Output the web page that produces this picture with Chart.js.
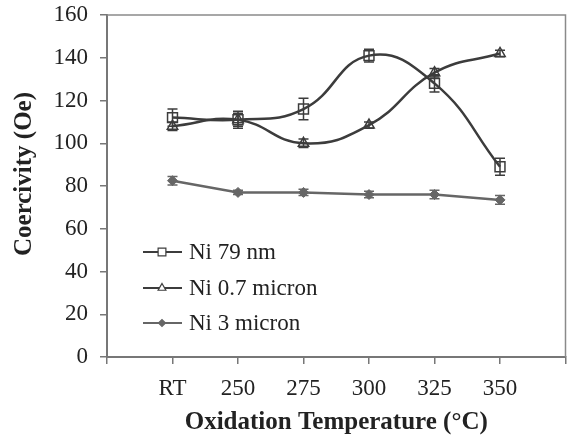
<!DOCTYPE html>
<html>
<head>
<meta charset="utf-8">
<script src="https://cdn.jsdelivr.net/npm/chart.js@4.4.1/dist/chart.umd.min.js"></script>
<style>
  html, body { margin: 0; padding: 0; background: #fff; }
  #wrap { width: 574px; height: 440px; }
</style>
</head>
<body>
<div id="wrap"><canvas id="coercivityChart" width="574" height="440"></canvas></div>
<script>
// empty slots at both ends leave room left of RT and right of 350
var temperatures = ['', 'RT', '250', '275', '300', '325', '350', ''];

var ni79nm = [null, 112, 111, 116, 141, 128, 89, null];
var ni79nmErr = [null, 4, 4, 5, 3, 4, 4, null];

var ni07micron = [null, 108, 111, 100, 108.5, 133, 142, null];
var ni07micronErr = [null, 2, 3, 2, 1.5, 2, 1.5, null];

var ni3micron = [null, 82.5, 77, 77, 76, 76, 73.5, null];
var ni3micronErr = [null, 2, 1, 1.5, 1.5, 2, 2, null];

var yTitle = 'Coercivity (Oe)';

var serif = "'Liberation Serif', 'Times New Roman', serif";

// error bars, closed frame, y title and the inset legend
var extras = {
  id: 'extras',
  afterDatasetsDraw: function (chart) {
    var ctx = chart.ctx;
    var xs = chart.scales.x, ys = chart.scales.y;
    var area = chart.chartArea;

    ctx.save();
    chart.data.datasets.forEach(function (ds) {
      ctx.strokeStyle = ds.borderColor;
      ctx.lineWidth = 1.5;
      ds.data.forEach(function (v, i) {
        var e = ds.errors[i];
        if (v === null || !e) return;
        var x = xs.getPixelForValue(i);
        var y1 = ys.getPixelForValue(v + e);
        var y2 = ys.getPixelForValue(v - e);
        ctx.beginPath();
        ctx.moveTo(x, y1); ctx.lineTo(x, y2);
        ctx.moveTo(x - 5, y1); ctx.lineTo(x + 5, y1);
        ctx.moveTo(x - 5, y2); ctx.lineTo(x + 5, y2);
        ctx.stroke();
      });
    });

    // top and right edges of the frame
    ctx.strokeStyle = '#8a8a8a';
    ctx.lineWidth = 1.5;
    ctx.beginPath();
    ctx.moveTo(area.left, area.top);
    ctx.lineTo(area.right, area.top);
    ctx.lineTo(area.right, area.bottom);
    ctx.stroke();

    // y axis title, sits a little above the middle of the axis
    ctx.save();
    ctx.translate(25, 174);
    ctx.rotate(-Math.PI / 2);
    ctx.fillStyle = '#222';
    ctx.font = 'bold 25px ' + serif;
    ctx.textAlign = 'center';
    ctx.textBaseline = 'middle';
    ctx.fillText(yTitle, 0, 0);
    ctx.restore();

    // legend
    var ly = [252, 288, 323];
    chart.data.datasets.forEach(function (ds, k) {
      var y = ly[k];
      ctx.strokeStyle = ds.borderColor;
      ctx.lineWidth = 2;
      ctx.beginPath();
      ctx.moveTo(143, y); ctx.lineTo(182, y);
      ctx.stroke();
      ctx.fillStyle = ds.pointStyle === 'rectRot' ? ds.pointBackgroundColor : '#fff';
      ctx.lineWidth = 1.2;
      Chart.helpers.drawPoint(ctx, {
        pointStyle: ds.pointStyle, radius: ds.pointRadius - 1.5,
        borderWidth: 1.2, rotation: 0
      }, 162, y);
      ctx.fillStyle = '#222';
      ctx.font = '23px ' + serif;
      ctx.textBaseline = 'middle';
      ctx.textAlign = 'left';
      ctx.fillText(ds.label, 189, y + 1);
    });
    ctx.restore();
  }
};

new Chart(document.getElementById('coercivityChart'), {
  type: 'line',
  data: {
    labels: temperatures,
    datasets: [
      {
        label: 'Ni 79 nm',
        data: ni79nm,
        errors: ni79nmErr,
        borderColor: '#3c3c3c',
        borderWidth: 2.5,
        tension: 0.45,
        pointStyle: 'rect',
        pointRadius: 7,
        pointBorderWidth: 1.5,
        pointBackgroundColor: 'rgba(255,255,255,0)',
        pointBorderColor: '#3c3c3c'
      },
      {
        label: 'Ni 0.7 micron',
        data: ni07micron,
        errors: ni07micronErr,
        borderColor: '#3c3c3c',
        borderWidth: 2.5,
        tension: 0.45,
        pointStyle: 'triangle',
        pointRadius: 6,
        pointBorderWidth: 1.5,
        pointBackgroundColor: 'rgba(255,255,255,0)',
        pointBorderColor: '#3c3c3c'
      },
      {
        label: 'Ni 3 micron',
        data: ni3micron,
        errors: ni3micronErr,
        borderColor: '#666666',
        borderWidth: 2.5,
        tension: 0,
        pointStyle: 'rectRot',
        pointRadius: 5,
        pointBorderWidth: 1,
        pointBackgroundColor: '#666666',
        pointBorderColor: '#666666'
      }
    ]
  },
  options: {
    responsive: false,
    devicePixelRatio: 1,
    animation: false,
    layout: { padding: { top: 15, right: 6, left: 0, bottom: 0 } },
    plugins: { legend: { display: false }, tooltip: { enabled: false } },
    scales: {
      x: {
        offset: false,
        afterFit: function (s) { s.height = 83; s.paddingLeft = 0; s.paddingRight = 0; },
        border: { display: true, color: '#777', width: 2 },
        grid: { drawOnChartArea: false, drawTicks: true, tickLength: 7, color: '#777', lineWidth: 1.5 },
        ticks: { color: '#222', font: { family: serif, size: 23 }, padding: 11, autoSkip: false, maxRotation: 0 },
        title: {
          display: true,
          text: 'Oxidation Temperature (\u00B0C)',
          color: '#222',
          font: { family: serif, size: 25, weight: 'bold' },
          padding: { top: 0, bottom: 2 }
        }
      },
      y: {
        min: 0,
        max: 160,
        afterFit: function (s) { s.width = 107; s.paddingTop = 0; s.paddingBottom = 0; },
        border: { display: true, color: '#777', width: 2 },
        grid: { drawOnChartArea: false, drawTicks: true, tickLength: 7, color: '#777', lineWidth: 1.5 },
        ticks: { stepSize: 20, color: '#222', font: { family: serif, size: 23 }, padding: 12 }
      }
    }
  },
  plugins: [extras]
});
</script>
</body>
</html>
